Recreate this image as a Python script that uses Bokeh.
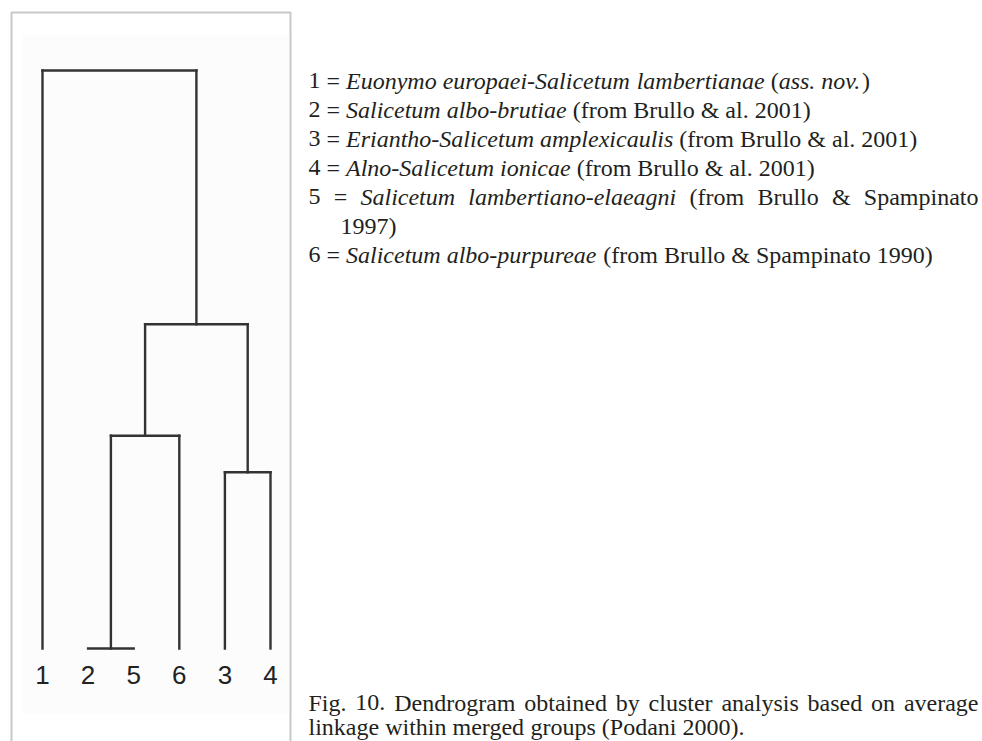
from bokeh.plotting import figure
from bokeh.models import ColumnDataSource, Range1d, BoxAnnotation
from bokeh.layouts import row
from bokeh.core.properties import value
from bokeh.embed import file_html
from bokeh.resources import INLINE

# ---------------- data ----------------
# leaf order along the dendrogram axis
leaf_order = ["1", "2", "5", "6", "3", "4"]
# agglomeration steps (average linkage): left member, right member, fusion level
merge_name = ["m1", "m2", "m3", "m4", "m5"]
merge_left = ["2", "m1", "3", "m2", "1"]
merge_right = ["5", "6", "4", "m3", "m4"]
merge_height = [0.0, 0.368, 0.305, 0.561, 1.0]

# legend
cluster_ids = ["1", "2", "3", "4", "5", "6"]
assoc_names = [
    "Euonymo europaei-Salicetum lambertianae",
    "Salicetum albo-brutiae",
    "Eriantho-Salicetum amplexicaulis",
    "Alno-Salicetum ionicae",
    "Salicetum lambertiano-elaeagni",
    "Salicetum albo-purpureae",
]
assoc_sources = [
    "(*ass. nov.*)",
    "(from Brullo & al. 2001)",
    "(from Brullo & al. 2001)",
    "(from Brullo & al. 2001)",
    "(from Brullo & Spampinato 1997)",
    "(from Brullo & Spampinato 1990)",
]
caption_lines = [
    "Fig. 10. Dendrogram obtained by cluster analysis based on average",
    "linkage within merged groups (Podani 2000).",
]

# ---------------- layout constants (pixels on the page) ----------------
H = 741
W_D, W_T = 296, 686
LEAF0_PX, LEAF_STEP_PX = 42.0, 45.6
BASE_PX, UNIT_PX = 648.0, 578.0
INK = "#231f20"
LINE = "#333333"


def dx(px):
    return (px - LEAF0_PX) / LEAF_STEP_PX


def dy(py):
    return (BASE_PX - py) / UNIT_PX


# ---------------- dendrogram ----------------
pd_ = figure(width=W_D, height=H,
             x_range=Range1d(dx(0), dx(W_D)),
             y_range=Range1d(dy(H), dy(0)),
             x_axis_type=None, y_axis_type=None,
             toolbar_location=None, output_backend="svg",
             min_border=0, outline_line_color=None,
             background_fill_color="white", border_fill_color="white")

pd_.add_layout(BoxAnnotation(left=dx(22), right=dx(288), top=dy(35), bottom=dy(713),
                             fill_color="#fcfcfc", fill_alpha=1.0, line_alpha=0,
                             level="underlay"))
pd_.add_layout(BoxAnnotation(left=dx(11), right=dx(290), top=dy(12), bottom=dy(2000),
                             fill_alpha=0, line_color="#4a4a4a", line_width=2))

node_x = {n: float(i) for i, n in enumerate(leaf_order)}
node_h = {n: 0.0 for n in leaf_order}
x0, y0, x1, y1 = [], [], [], []
for name, l, r, h in zip(merge_name, merge_left, merge_right, merge_height):
    for c in (l, r):
        if node_h[c] != h:
            x0.append(node_x[c]); y0.append(node_h[c]); x1.append(node_x[c]); y1.append(h)
    x0.append(node_x[l]); y0.append(h); x1.append(node_x[r]); y1.append(h)
    node_x[name] = (node_x[l] + node_x[r]) / 2.0
    node_h[name] = h

pd_.segment(x0=x0, y0=y0, x1=x1, y1=y1, line_color=LINE, line_width=2.4,
            line_cap="square")

pd_.text(x=[float(i) for i in range(len(leaf_order))], y=[dy(674)] * len(leaf_order),
         text=leaf_order, text_align="center", text_baseline="middle",
         text_font=value("Liberation Sans"), text_font_size=value("26px"),
         text_color="#222222")

# ---------------- text panel ----------------
ROMAN = {' ': 250, '(': 333, ')': 333, '.': 250, '&': 778, '-': 333, '=': 564,
         'a': 444, 'b': 500, 'c': 444, 'd': 500, 'e': 444, 'f': 333, 'g': 500,
         'h': 500, 'i': 278, 'j': 278, 'k': 500, 'l': 278, 'm': 778, 'n': 500,
         'o': 500, 'p': 500, 'q': 500, 'r': 333, 's': 389, 't': 278, 'u': 500,
         'v': 500, 'w': 722, 'x': 500, 'y': 500, 'z': 444,
         'A': 722, 'B': 667, 'C': 667, 'D': 722, 'E': 611, 'F': 556, 'P': 556, 'S': 556}
ITALIC = {' ': 250, '(': 333, ')': 333, '.': 250, '-': 333,
          'a': 500, 'b': 500, 'c': 444, 'd': 500, 'e': 444, 'g': 500, 'h': 500,
          'i': 278, 'l': 278, 'm': 722, 'n': 500, 'o': 500, 'p': 500, 'r': 389,
          's': 389, 't': 278, 'u': 500, 'v': 444, 'x': 444, 'y': 444,
          'A': 611, 'E': 611, 'S': 500}


def seg_width(txt, italic, size):
    tab = ITALIC if italic else ROMAN
    return sum(tab.get(ch, 500) for ch in txt) * size / 1000.0


def parse_words(s):
    words, cur, seg, ital = [], [], "", False
    for ch in s:
        if ch == "*":
            if seg:
                cur.append((seg, ital)); seg = ""
            ital = not ital
        elif ch == " ":
            if seg:
                cur.append((seg, ital)); seg = ""
            if cur:
                words.append(cur); cur = []
        else:
            seg += ch
    if seg:
        cur.append((seg, ital))
    if cur:
        words.append(cur)
    return words


def word_width(w, size):
    return sum(seg_width(t, it, size) for t, it in w)


def place_line(words, x, y, size, justify_to, out):
    widths = [word_width(w, size) for w in words]
    sp = 0.25 * size
    if justify_to is not None and len(words) > 1:
        sp = (justify_to - x - sum(widths)) / (len(words) - 1)
    for w, ww in zip(words, widths):
        cx = x
        for t, it in w:
            out["x"].append(cx); out["y"].append(y); out["text"].append(t)
            out["style"].append("italic" if it else "normal")
            cx += seg_width(t, it, size)
        x += ww + sp


def paragraph(s, x0, indent_x, y, size, right, lead, out):
    words = parse_words(s)
    lines, cur = [], []
    for w in words:
        trial = cur + [w]
        start = x0 if not lines else indent_x
        wsum = sum(word_width(t, size) for t in trial) + 0.25 * size * (len(trial) - 1)
        if cur and start + wsum > right:
            lines.append(cur); cur = [w]
        else:
            cur = trial
    lines.append(cur)
    for i, ln in enumerate(lines):
        start = x0 if i == 0 else indent_x
        place_line(ln, start, y, size, right if i < len(lines) - 1 else None, out)
        y += lead
    return y


LEG_SIZE, CAP_SIZE = 24, 24
legend = {"x": [], "y": [], "text": [], "style": []}
y = 80.0
for cid, name, src in zip(cluster_ids, assoc_names, assoc_sources):
    y = paragraph(f"{cid} = *{name}* {src}", 308, 340, y, LEG_SIZE, 978, 29, legend)

caption = {"x": [], "y": [], "text": [], "style": []}
cy = 702.0
for i, ln in enumerate(caption_lines):
    place_line(parse_words(ln), 308, cy, CAP_SIZE,
               978 if i < len(caption_lines) - 1 else None, caption)
    cy += 24

pt = figure(width=W_T, height=H,
            x_range=Range1d(W_D, W_D + W_T), y_range=Range1d(H, 0),
            x_axis_type=None, y_axis_type=None,
            toolbar_location=None, output_backend="svg",
            min_border=0, outline_line_color=None,
            background_fill_color="white", border_fill_color="white")

pt.text(x="x", y="y", text="text", source=ColumnDataSource(legend),
        text_font=value("Liberation Serif"), text_font_size=value(f"{LEG_SIZE}px"),
        text_font_style="style", text_align="left", text_baseline="middle",
        text_color=INK)
pt.text(x="x", y="y", text="text", source=ColumnDataSource(caption),
        text_font=value("Liberation Serif"), text_font_size=value(f"{CAP_SIZE}px"),
        text_font_style="style", text_align="left", text_baseline="middle",
        text_color=INK)

layout = row(pd_, pt, spacing=0)
open("out.html", "w").write(file_html(layout, INLINE))
